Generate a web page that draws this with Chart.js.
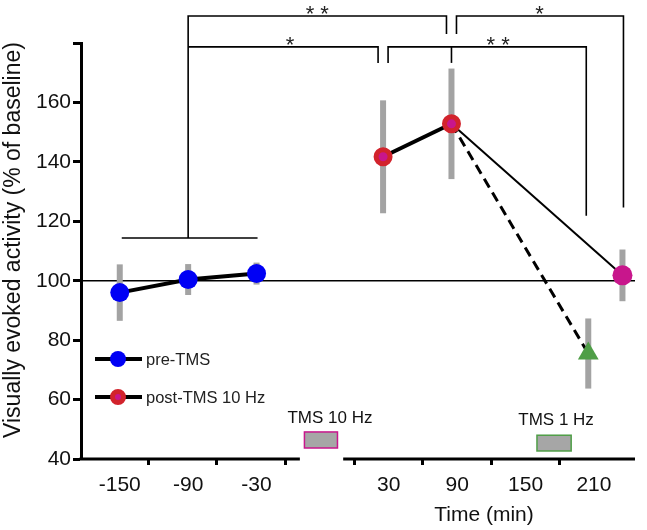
<!DOCTYPE html>
<html>
<head>
<meta charset="utf-8">
<script src="https://cdn.jsdelivr.net/npm/chart.js@4.4.1/dist/chart.umd.min.js"></script>
<style>
  body { margin: 0; background: #fff; }
</style>
</head>
<body>
<canvas id="grafico" width="647" height="530"></canvas>
<script>
// Tiempos (min) y actividad (% de la línea base), con su error
const preTimes = [-150, -90, -30];
const preValues = [96, 100.4, 102.4];
const preErrors = [9.5, 5.2, 3.7];

const postTimes = [30, 90, 240];
const postValues = [141.7, 152.8, 101.8];
const postErrors = [19, 18.6, 8.7];

const tms1Times = [210];
const tms1Values = [75.5];
const tms1Errors = [11.8];

// Etiquetas del eje X y marcas (entre etiquetas)
const tickLabels = [-150, -90, -30, 30, 90, 150, 210];
const tickMarks = [-125, -65, -5, 5, 65, 125, 185];

// El eje X está cortado: los tiempos positivos se desplazan
const GAP = 51;
const toAxis = t => (t > 0 ? t + GAP : t);
const axisBreak = [8, 46];
const rightLabelShift = 5;
const FONT = "'Liberation Sans', Arial, sans-serif";

const BLUE = '#0000f5';
const RED = '#d2232c';
const MAGENTA = '#c8168c';
const GREEN = '#4f9e47';
const GRAY = '#a3a3a3';

const labelPos = tickLabels.map(t => toAxis(t) + (t > 0 ? rightLabelShift : 0));

// Dibuja línea de 100 %, barras de error, eje cortado, corchetes, leyenda y textos
const decor = {
  id: 'decor',
  beforeDatasetsDraw(chart) {
    const { ctx, chartArea: a, scales: { x, y } } = chart;
    ctx.save();
    ctx.strokeStyle = '#000';
    ctx.lineWidth = 1.5;
    ctx.beginPath();
    ctx.moveTo(a.left, y.getPixelForValue(100));
    ctx.lineTo(a.right, y.getPixelForValue(100));
    ctx.stroke();

    ctx.strokeStyle = GRAY;
    ctx.lineWidth = 6;
    const bars = [
      [preTimes, preValues, preErrors],
      [postTimes, postValues, postErrors],
      [tms1Times, tms1Values, tms1Errors]
    ];
    bars.forEach(([ts, vs, es]) => ts.forEach((t, i) => {
      const px = x.getPixelForValue(toAxis(t));
      ctx.beginPath();
      ctx.moveTo(px, y.getPixelForValue(vs[i] + es[i]));
      ctx.lineTo(px, y.getPixelForValue(vs[i] - es[i]));
      ctx.stroke();
    }));
    ctx.restore();
  },
  afterDraw(chart) {
    const { ctx, chartArea: a, scales: { x, y } } = chart;
    const X = (t, dx = 0) => x.getPixelForValue(toAxis(t)) + dx;
    const Y = v => y.getPixelForValue(v);
    ctx.save();

    // eje X en dos tramos
    ctx.strokeStyle = '#000';
    ctx.lineWidth = 3;
    ctx.beginPath();
    ctx.moveTo(a.left - 1.5, a.bottom);
    ctx.lineTo(x.getPixelForValue(axisBreak[0]), a.bottom);
    ctx.moveTo(x.getPixelForValue(axisBreak[1]), a.bottom);
    ctx.lineTo(a.right, a.bottom);
    ctx.stroke();

    // corchetes de significancia
    ctx.lineWidth = 1.6;
    const path = pts => {
      ctx.beginPath();
      pts.forEach(([px, py], i) => (i ? ctx.lineTo(px, py) : ctx.moveTo(px, py)));
      ctx.stroke();
    };
    path([[X(-150, 2), Y(114.4)], [X(-30, 1), Y(114.4)]]);
    path([[X(-90), Y(114.4)], [X(-90), Y(189.1)], [X(90, -5), Y(189.1)], [X(90, -5), Y(183)]]);
    path([[X(90, 5), Y(183)], [X(90, 5), Y(189.1)], [X(240, 1), Y(189.1)], [X(240, 1), Y(124.6)]]);
    path([[X(-90), Y(178.7)], [X(30, -5), Y(178.7)], [X(30, -5), Y(173.3)]]);
    path([[X(30, 5), Y(173.3)], [X(30, 5), Y(178.7)], [X(210, -2), Y(178.7)], [X(210, -2), Y(121.9)]]);
    path([[X(90), Y(178.7)], [X(90), Y(173.3)]]);

    ctx.fillStyle = '#222';
    ctx.font = '22px ' + FONT;
    ctx.textAlign = 'center';
    ctx.textBaseline = 'alphabetic';
    ctx.fillText('* *', (X(-90) + X(90, -5)) / 2, Y(189.1) + 5);
    ctx.fillText('*', (X(90, 5) + X(240)) / 2, Y(189.1) + 5);
    ctx.fillText('*', (X(-90) + X(30, -5)) / 2 + 7, Y(178.7) + 5);
    ctx.fillText('* *', (X(30, 5) + X(210)) / 2 + 10, Y(178.7) + 5);

    // leyenda
    const rows = [
      { label: 'pre-TMS', fill: BLUE, stroke: BLUE, r: 8, bw: 0, y: 359 },
      { label: 'post-TMS 10 Hz', fill: MAGENTA, stroke: RED, r: 5.5, bw: 5, y: 397 }
    ];
    rows.forEach(row => {
      ctx.strokeStyle = '#000';
      ctx.lineWidth = 4;
      ctx.beginPath();
      ctx.moveTo(95, row.y);
      ctx.lineTo(142, row.y);
      ctx.stroke();
      ctx.beginPath();
      ctx.arc(118, row.y, row.r, 0, Math.PI * 2);
      ctx.fillStyle = row.fill;
      ctx.fill();
      if (row.bw) {
        ctx.lineWidth = row.bw;
        ctx.strokeStyle = row.stroke;
        ctx.stroke();
      }
      ctx.fillStyle = '#222';
      ctx.font = '16.5px ' + FONT;
      ctx.textAlign = 'left';
      ctx.textBaseline = 'middle';
      ctx.fillText(row.label, 146, row.y + 1);
    });

    // periodos de estimulación
    const boxes = [
      { label: 'TMS 10 Hz', x0: x.getPixelForValue(12), x1: x.getPixelForValue(41), top: 49.1, bot: 43.7, ty: 53.8, dx: 9, color: MAGENTA },
      { label: 'TMS 1 Hz', x0: X(165), x1: X(195), top: 48, bot: 42.7, ty: 53.1, dx: 2, color: GREEN }
    ];
    boxes.forEach(b => {
      ctx.fillStyle = '#a6a6a6';
      ctx.fillRect(b.x0, Y(b.top), b.x1 - b.x0, Y(b.bot) - Y(b.top));
      ctx.strokeStyle = b.color;
      ctx.lineWidth = 1.5;
      ctx.strokeRect(b.x0, Y(b.top), b.x1 - b.x0, Y(b.bot) - Y(b.top));
      ctx.fillStyle = '#111';
      ctx.font = '17px ' + FONT;
      ctx.textAlign = 'center';
      ctx.textBaseline = 'middle';
      ctx.fillText(b.label, (b.x0 + b.x1) / 2 + b.dx, Y(b.ty));
    });

    // títulos de los ejes
    ctx.fillStyle = '#111';
    ctx.font = '21px ' + FONT;
    ctx.textAlign = 'center';
    ctx.textBaseline = 'middle';
    ctx.fillText('Time (min)', 484, 515);
    ctx.translate(14, 240);
    ctx.rotate(-Math.PI / 2);
    ctx.font = '23px ' + FONT;
    ctx.fillText('Visually evoked activity (% of baseline)', 0, 0);
    ctx.restore();
  }
};

new Chart(document.getElementById('grafico'), {
  type: 'line',
  data: {
    datasets: [
      {
        label: 'pre-TMS',
        data: preTimes.map((t, i) => ({ x: toAxis(t), y: preValues[i] })),
        borderColor: '#000',
        borderWidth: 4,
        pointRadius: 9.5,
        pointBorderWidth: 0,
        pointBackgroundColor: BLUE,
        order: 2
      },
      {
        label: 'post-TMS 10 Hz',
        data: postTimes.map((t, i) => ({ x: toAxis(t), y: postValues[i] })),
        borderColor: '#000',
        borderWidth: 2,
        segment: { borderWidth: c => (c.p0DataIndex === 0 ? 4 : 2) },
        pointRadius: [7, 7, 10],
        pointBorderWidth: [5, 5, 0],
        pointBorderColor: [RED, RED, MAGENTA],
        pointBackgroundColor: MAGENTA,
        order: 1
      },
      {
        label: 'TMS 1 Hz',
        data: [
          { x: toAxis(postTimes[1]), y: postValues[1] },
          { x: toAxis(tms1Times[0]), y: tms1Values[0] }
        ],
        borderColor: '#000',
        borderWidth: 3,
        borderDash: [10, 6],
        pointStyle: 'triangle',
        pointRadius: [0, 12],
        pointBorderWidth: 0,
        pointBackgroundColor: GREEN,
        order: 3
      }
    ]
  },
  options: {
    responsive: false,
    animation: false,
    events: [],
    layout: { padding: { top: 43, right: 5, left: 0, bottom: 0 } },
    plugins: { legend: { display: false }, tooltip: { enabled: false } },
    scales: {
      x: {
        type: 'linear',
        min: -184,
        max: 302,
        afterFit: s => { s.height = 71; },
        afterBuildTicks: s => {
          s.ticks = [...labelPos, ...tickMarks.map(toAxis)].sort((p, q) => p - q).map(v => ({ value: v }));
        },
        ticks: {
          autoSkip: false,
          maxRotation: 0,
          padding: 8,
          color: '#111',
          font: { family: FONT, size: 21 },
          callback: v => {
            const i = labelPos.indexOf(v);
            return i >= 0 ? String(tickLabels[i]) : '';
          }
        },
        grid: {
          drawOnChartArea: false,
          tickLength: 6,
          tickWidth: 3,
          tickColor: c => (c.tick && labelPos.includes(c.tick.value) ? 'rgba(0,0,0,0)' : '#000')
        },
        border: { display: false }
      },
      y: {
        min: 40,
        max: 180,
        afterFit: s => { s.width = 81; },
        ticks: {
          stepSize: 20,
          padding: 2,
          color: '#111',
          font: { family: FONT, size: 21 },
          callback: v => (v === 180 ? '' : v)
        },
        grid: { drawOnChartArea: false, tickLength: 8, tickWidth: 3, tickColor: '#000' },
        border: { display: true, width: 3, color: '#000' }
      }
    }
  },
  plugins: [decor]
});
</script>
</body>
</html>
